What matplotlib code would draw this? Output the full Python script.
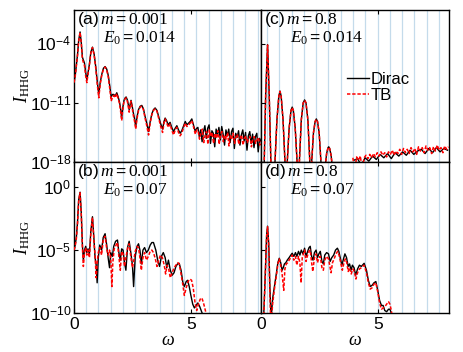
import numpy as np
import matplotlib
matplotlib.use("Agg")
import matplotlib.pyplot as plt
from matplotlib.lines import Line2D

plt.rcParams['font.family'] = ['Liberation Sans', 'DejaVu Sans']
plt.rcParams['mathtext.fontset'] = 'custom'
plt.rcParams['mathtext.rm'] = 'Liberation Sans'
plt.rcParams['mathtext.sf'] = 'Liberation Sans'
plt.rcParams['mathtext.it'] = 'Liberation Serif:italic'
plt.rcParams['mathtext.tt'] = 'Liberation Serif'
plt.rcParams['mathtext.bf'] = 'Liberation Sans:bold'

nan = np.nan
# ---------------- data (log10 of I_HHG) ----------------
# panel (a): m=0.001, E0=0.014
a_w_dirac = [0.00, 0.05, 0.10, 0.15, 0.20, 0.26, 0.31, 0.36, 0.40, 0.45, 0.50, 0.55, 0.60, 0.66, 0.72, 0.79, 0.86, 0.93, 1.00, 1.06,
             1.12, 1.19, 1.26, 1.33, 1.40, 1.47, 1.53, 1.59, 1.65, 1.70, 1.76, 1.83, 1.89, 1.94, 1.99, 2.04, 2.09, 2.14, 2.19, 2.23,
             2.29, 2.36, 2.40, 2.44, 2.49, 2.54, 2.60, 2.64, 2.70, 2.76, 2.83, 2.90, 2.97, 3.04, 3.12, 3.19, 3.26, 3.33, 3.40, 3.47,
             3.55, 3.62, 3.70, 3.79, 3.85, 3.90, 3.96, 4.03, 4.11, 4.18, 4.26, 4.33, 4.40, 4.47, 4.54, 4.61, 4.68, 4.76, 4.83, 4.90,
             4.97, 5.04, 5.11, 5.19, 5.25,
             5.30, 5.36, 5.42, 5.48, 5.54, 5.60, 5.66, 5.72, 5.78, 5.84, 5.90, 5.96, 6.02, 6.08, 6.14, 6.20, 6.26, 6.32, 6.38, 6.44,
             6.50, 6.56, 6.62, 6.68, 6.74, 6.80, 6.86, 6.92, 6.98, 7.04, 7.10, 7.16, 7.22, 7.28, 7.34, 7.40, 7.46, 7.52, 7.58, 7.64,
             7.70, 7.76, 7.82, 7.88, 7.94, 8.00]
a_dirac = [-8.6, -7.8, -6.5, -5.3, -3.6, -2.6, -3.8, -5.6, -5.9, -6.3, -7.4, -8.3, -7.4, -6.4, -5.0, -4.4, -5.2, -6.7, -8.6, -10.0,
           -8.6, -7.6, -6.9, -6.7, -7.0, -7.8, -9.0, -10.3, -10.0, -10.0, -10.2, -9.8, -10.3, -10.8, -11.6, -12.8, -11.5, -10.7, -10.4, -10.3,
           -10.7, -11.8, -11.2, -10.7, -11.4, -12.2, -13.0, -13.8, -12.6, -11.8, -11.4, -11.3, -11.7, -12.6, -13.5, -14.4, -13.2, -12.3, -11.8, -11.6,
           -11.9, -12.6, -13.4, -14.1, -13.2, -12.8, -13.1, -13.6, -13.3, -13.9, -14.4, -14.0, -13.7, -14.2, -14.6, -14.3, -13.8, -13.2, -13.6, -13.4,
           -13.2, -12.9, -13.6, -14.4, -14.0,
           -13.9, -15.0, -14.2, -15.6, -14.4, -13.7, -15.2, -14.0, -13.6, -15.8, -14.3, -14.6, -16.2, -14.1, -14.8, -13.9, -15.4, -13.8, -14.7, -16.0,
           -14.2, -14.9, -14.1, -15.7, -14.4, -14.0, -16.4, -14.6, -15.1, -14.3, -16.0, -14.8, -14.2, -15.5, -14.5, -16.6, -14.9, -14.4, -15.8, -14.7,
           -16.3, -15.0, -14.6, -16.8, -15.2, -15.6]
a_w_tb = [0.00, 0.05, 0.10, 0.15, 0.20, 0.26, 0.31, 0.36, 0.40, 0.45, 0.50, 0.55, 0.60, 0.66, 0.72, 0.79, 0.86, 0.93, 1.00, 1.06,
          1.12, 1.19, 1.26, 1.33, 1.40, 1.47, 1.53, 1.59, 1.65, 1.70, 1.76, 1.83, 1.89, 1.94, 1.99, 2.04, 2.09, 2.14, 2.19, 2.23,
          2.29, 2.36, 2.40, 2.44, 2.49, 2.54, 2.60, 2.64, 2.70, 2.76, 2.83, 2.90, 2.97, 3.04, 3.12, 3.19, 3.26, 3.33, 3.40, 3.47,
          3.55, 3.62, 3.70, 3.79, 3.85, 3.90, 3.96, 4.03, 4.11, 4.18, 4.26, 4.33, 4.40, 4.47, 4.54, 4.61, 4.68, 4.76, 4.83, 4.90,
          4.97, 5.04, 5.11, 5.19, 5.25,
          5.31, 5.37, 5.43, 5.49, 5.55, 5.61, 5.67, 5.73, 5.79, 5.85, 5.91, 5.97, 6.03, 6.09, 6.15, 6.21, 6.27, 6.33, 6.39, 6.45,
          6.51, 6.57, 6.63, 6.69, 6.75, 6.81, 6.87, 6.93, 6.99, 7.05, 7.11, 7.17, 7.23, 7.29, 7.35, 7.41, 7.47, 7.53, 7.59, 7.65,
          7.71, 7.77, 7.83, 7.89, 7.95, 8.00]
a_tb = [-8.6, -7.9, -6.6, -5.4, -3.7, -2.65, -3.9, -5.8, -6.2, -6.6, -7.8, -8.6, -7.6, -6.5, -5.1, -4.45, -5.3, -6.9, -8.9, -10.4,
        -8.8, -7.7, -7.0, -6.75, -7.1, -8.0, -9.3, -10.8, -10.3, -10.1, -10.4, -9.9, -10.5, -11.0, -11.9, -13.1, -11.7, -10.8, -10.5, -10.4,
        -10.9, -12.1, -11.4, -10.8, -11.6, -12.5, -13.3, -14.1, -12.8, -11.9, -11.5, -11.4, -11.8, -12.8, -13.8, -14.8, -13.4, -12.4, -11.9, -11.7,
        -12.0, -12.8, -13.7, -14.5, -13.4, -12.9, -13.3, -13.9, -13.5, -14.2, -14.8, -14.2, -13.9, -14.5, -14.9, -14.6, -14.0, -13.4, -13.8, -13.6,
        -13.4, -13.1, -13.8, -14.7, -14.2,
        -14.3, -15.3, -14.6, -14.1, -15.7, -14.8, -14.4, -15.9, -14.2, -15.0, -14.5, -15.8, -14.6, -15.2, -14.3, -15.9, -14.7, -14.4, -15.6, -14.8,
        -15.3, -14.5, -16.1, -14.9, -15.2, -14.6, -15.8, -15.0, -14.7, -15.9, -15.1, -14.8, -16.0, -15.2, -14.9, -15.7, -15.3, -15.0, -16.2, -15.3,
        -15.0, -15.8, -15.4, -15.1, -16.0, -15.5]

# panel (b): m=0.001, E0=0.07
b_w_dirac = [0.00, 0.05, 0.10, 0.15, 0.20, 0.26, 0.31, 0.36, 0.40, 0.45, 0.50, 0.55, 0.60, 0.66, 0.72, 0.79, 0.85, 0.90, 0.95, 0.99,
             1.04, 1.10, 1.18, 1.25, 1.33, 1.40, 1.46, 1.52, 1.57, 1.64, 1.70, 1.78, 1.86, 1.92, 1.98, 2.04, 2.10, 2.16, 2.22, 2.29,
             2.36, 2.43, 2.50, 2.55, 2.62, 2.70, 2.76, 2.82, 2.88, 2.95, 3.02, 3.10, 3.18, 3.26, 3.33, 3.40, 3.50, 3.58, 3.66, 3.74,
             3.82, 3.90, 3.97, 4.04, 4.12, 4.20, 4.28, 4.36, 4.43, 4.50, 4.58, 4.66, 4.72, 4.80, 4.86, 4.93, 5.00, 5.08, 5.15, 5.22,
             5.30, 5.38, 5.46, 5.54, 5.60]
b_dirac = [-5.0, -4.6, -4.0, -2.8, -1.0, -0.4, -2.0, -4.6, -5.8, -5.0, -4.7, -5.2, -4.9, -5.3, -3.5, -2.35, -4.0, -5.6, -6.2, -7.6,
           -5.6, -4.6, -5.0, -4.0, -3.7, -4.6, -5.6, -6.4, -5.2, -5.5, -4.7, -4.3, -4.2, -5.2, -5.8, -4.9, -5.0, -6.0, -6.6, -4.8,
           -4.3, -5.2, -6.2, -7.9, -5.5, -4.7, -4.5, -5.0, -6.1, -5.0, -4.8, -5.2, -5.0, -4.6, -4.4, -4.4, -5.0, -5.8, -6.3, -5.5,
           -5.2, -5.6, -6.4, -5.8, -6.6, -7.0, -6.8, -6.3, -6.1, -6.05, -6.6, -7.6, -7.9, -7.5, -7.4, -7.9, -8.6, -9.3, -9.6, -9.4,
           -9.2, -9.5, -9.9, -10.3, -10.8]
b_w_tb = [0.00, 0.05, 0.10, 0.15, 0.20, 0.26, 0.31, 0.36, 0.40, 0.45, 0.50, 0.55, 0.60, 0.66, 0.72, 0.79, 0.85, 0.90, 0.95, 0.99,
          1.04, 1.10, 1.18, 1.25, 1.33, 1.40, 1.46, 1.52, 1.57, 1.62, 1.66, 1.72, 1.80, 1.86, 1.92, 1.98, 2.04, 2.10, 2.16, 2.22,
          2.29, 2.36, 2.43, 2.50, 2.56, 2.62, 2.70, 2.76, 2.82, 2.88, 2.95, 3.02, 3.10, 3.18, 3.26, 3.33, 3.40, 3.48, 3.55, 3.62,
          3.70, 3.78, 3.86, 3.92, 3.98, 4.05, 4.12, 4.20, 4.28, 4.36, 4.44, 4.50, 4.58, 4.66, 4.72, 4.80, 4.88, 4.96, 5.03, 5.10,
          5.18, 5.25, 5.32, 5.40, 5.47, 5.54, 5.62, 5.70]
b_tb = [-5.0, -4.7, -4.1, -2.9, -1.1, -0.45, -2.1, -4.8, -6.3, -5.2, -4.8, -5.4, -5.0, -5.6, -3.7, -2.4, -4.2, -5.4, -7.2, -6.0,
        -5.2, -4.8, -5.4, -4.2, -3.9, -4.9, -5.4, -5.0, -5.6, -7.9, -6.0, -4.9, -4.6, -4.4, -5.5, -6.6, -5.1, -5.3, -6.3, -5.6,
        -4.9, -4.5, -5.5, -6.4, -5.8, -5.1, -4.7, -4.8, -5.6, -6.6, -5.6, -5.2, -5.8, -5.5, -5.1, -5.0, -5.2, -5.7, -6.3, -5.8,
        -5.4, -5.6, -6.2, -6.9, -6.2, -6.5, -7.2, -6.8, -6.4, -6.2, -6.0, -6.1, -6.9, -7.8, -8.6, -8.0, -7.5, -7.3, -7.4, -8.0,
        -9.2, -9.8, -9.3, -8.9, -8.8, -9.2, -9.8, -10.4]

# panel (c): m=0.8, E0=0.014
c_w_dirac = [0.13, 0.20, 0.28, 0.35, 0.43, 0.58, 0.68, 0.76, 0.81, 0.86, 0.94, 1.04, 1.10, 1.20, 1.28, 1.33, 1.38, 1.46, 1.56,
             1.62, 1.72, 1.80, 1.86, 1.92, 2.00, 2.10, 2.14, 2.24, 2.31, 2.36, 2.41, 2.48, 2.58, 2.72, 2.80, 2.86, 2.89, 2.93, 2.99, 3.06,
             3.50,
             3.96, 4.12, 4.28, 4.44, 4.60, 4.76, 4.92, 5.08, 5.24, 5.40, 5.56, 5.72, 5.88, 6.04, 6.20, 6.36, 6.52, 6.68, 6.84, 7.00,
             7.16, 7.32, 7.48, 7.64, 7.80, 7.96]
c_dirac = [-19, -10, -4.1, -10, -19, -19, -13, -10.2, -9.6, -10.2, -13, -19, -19, -14, -11.9, -11.5, -11.9, -14, -19,
           -19, -13, -11.0, -10.65, -11.0, -13, -19, -19, -14.5, -13.2, -12.9, -13.2, -14.5, -19, -19, -17, -16.3, -16.2, -16.4, -17.2, -19,
           nan,
           -17.8, -17.6, -18.4, -17.5, -17.9, -17.3, -17.7, -17.1, -17.5, -17.0, -17.6, -16.9, -17.3, -16.8, -17.2, -16.6, -17.1, -16.7, -16.5, -17.0,
           -16.4, -16.9, -16.3, -16.8, -16.4, -16.6]
c_w_tb = [0.13, 0.20, 0.28, 0.35, 0.43, 0.58, 0.68, 0.76, 0.81, 0.86, 0.94, 1.04, 1.10, 1.20, 1.28, 1.33, 1.38, 1.46, 1.56,
          1.62, 1.72, 1.80, 1.86, 1.92, 2.00, 2.10, 2.14, 2.24, 2.31, 2.36, 2.41, 2.48, 2.58, 2.72, 2.80, 2.86, 2.89, 2.93, 2.99, 3.06,
          3.50,
          3.92, 4.00, 4.08, 4.16, 4.24, 4.32, 4.40, 4.48, 4.56, 4.64, 4.72, 4.80, 4.88, 4.96, 5.04, 5.12, 5.20, 5.28, 5.36, 5.44,
          5.52, 5.60, 5.68, 5.76, 5.84, 5.92, 6.00, 6.08, 6.16, 6.24, 6.32, 6.40, 6.48, 6.56, 6.64, 6.72, 6.80, 6.88, 6.96, 7.04,
          7.12, 7.20, 7.28, 7.36, 7.44, 7.52, 7.60, 7.68, 7.76, 7.84, 7.92, 8.00]
c_tb = [-19, -10, -4.15, -10, -19, -19, -13, -10.2, -9.65, -10.2, -13, -19, -19, -14, -11.9, -11.55, -11.9, -14, -19,
        -19, -13, -11.0, -10.7, -11.0, -13, -19, -19, -14.5, -13.2, -12.95, -13.2, -14.5, -19, -19, -17, -16.3, -16.25, -16.4, -17.2, -19,
        nan,
        -17.5, -19, -17.4, -17.8, -17.3, -19, -17.5, -17.2, -17.6, -17.1, -17.5, -17.0, -17.4, -16.9, -17.3, -16.8, -17.2, -16.9, -17.4, -16.8,
        -17.1, -16.6, -17.2, -16.7, -17.0, -16.5, -17.1, -16.4, -16.9, -16.5, -17.0, -16.3, -16.8, -16.4, -17.1, -16.2, -16.7, -16.3, -16.9, -16.1,
        -16.6, -16.3, -17.0, -16.2, -16.7, -16.0, -16.6, -16.3, -16.9, -16.1, -16.5, -16.2]

# panel (d): m=0.8, E0=0.07
d_w_dirac = [0.10, 0.18, 0.24, 0.28, 0.33, 0.38, 0.43, 0.50, 0.58, 0.66, 0.72, 0.78, 0.84, 0.90, 0.95, 1.00, 1.06, 1.12, 1.20, 1.27,
             1.33, 1.40, 1.47, 1.53, 1.60, 1.66, 1.72, 1.79, 1.86, 1.92, 1.99, 2.05, 2.10, 2.16, 2.22, 2.28, 2.35, 2.41, 2.47, 2.53,
             2.60, 2.66, 2.72, 2.80, 2.88, 2.95, 3.02, 3.10, 3.18, 3.26, 3.32, 3.38, 3.45, 3.52, 3.58, 3.65, 3.72, 3.78, 3.84, 3.90,
             3.97, 4.04, 4.12, 4.20, 4.28, 4.40, 4.50, 4.58, 4.66, 4.74, 4.82, 4.90, 4.98, 5.06, 5.14, 5.21, 5.28, 5.36, 5.44, 5.50,
             5.56, 5.62]
d_dirac = [-11.0, -7.0, -3.8, -3.1, -4.5, -8.0, -10.5, -8.8, -7.8, -6.8, -6.0, -5.65, -6.0, -6.6, -6.4, -6.1, -6.0, -5.8, -5.6, -5.4,
           -5.25, -5.5, -5.2, -5.5, -5.1, -5.4, -5.0, -5.3, -4.85, -5.5, -5.1, -4.8, -4.7, -5.5, -5.8, -5.2, -5.0, -5.6, -5.3, -5.1,
           -5.9, -6.1, -5.4, -5.2, -5.3, -5.9, -5.6, -5.4, -5.0, -4.85, -5.1, -5.6, -6.2, -5.7, -5.3, -5.6, -6.3, -6.1, -6.6, -6.2,
           -6.4, -7.0, -6.5, -6.2, -6.3, -6.05, -6.6, -7.4, -7.9, -7.8, -7.6, -7.5, -8.2, -9.0, -9.4, -9.4, -9.8, -9.9, -9.7, -9.7,
           -10.0, -10.5]
d_w_tb = [0.10, 0.18, 0.24, 0.28, 0.33, 0.38, 0.42, 0.50, 0.58, 0.66, 0.72, 0.78, 0.84, 0.90, 0.97, 1.02, 1.08, 1.14, 1.20, 1.27,
          1.33, 1.40, 1.47, 1.53, 1.60, 1.66, 1.71, 1.76, 1.81, 1.86, 1.92, 1.99, 2.05, 2.10, 2.16, 2.21, 2.28, 2.35, 2.41, 2.47,
          2.53, 2.60, 2.66, 2.72, 2.80, 2.88, 2.94, 2.99, 3.05, 3.12, 3.20, 3.27, 3.33, 3.40, 3.47, 3.54, 3.60, 3.66, 3.72, 3.78,
          3.85, 3.92, 3.98, 4.05, 4.12, 4.20, 4.28, 4.40, 4.50, 4.58, 4.66, 4.74, 4.82, 4.90, 4.98, 5.06, 5.14, 5.21, 5.28, 5.36,
          5.44, 5.50, 5.56, 5.62]
d_tb = [-11.0, -7.2, -3.9, -3.15, -4.7, -8.5, -11.0, -9.2, -8.0, -7.0, -6.1, -5.7, -6.2, -6.9, -8.2, -6.5, -6.1, -6.0, -5.8, -5.6,
        -5.4, -5.8, -5.5, -6.2, -5.5, -6.0, -7.6, -5.6, -5.3, -5.0, -5.9, -5.4, -5.1, -5.0, -6.0, -6.7, -5.6, -5.3, -6.0, -5.6,
        -5.5, -6.4, -6.6, -5.8, -5.5, -5.7, -6.3, -6.8, -6.0, -5.7, -5.3, -5.1, -5.4, -6.0, -6.6, -6.0, -5.7, -6.0, -6.7, -6.4,
        -6.9, -6.5, -6.7, -7.3, -6.8, -6.5, -6.4, -6.2, -6.8, -7.6, -8.1, -8.0, -7.7, -7.6, -8.3, -9.2, -9.7, -9.6, -9.5, -9.3,
        -9.1, -9.3, -9.8, -10.5]

panel_labels = ['(a)', '(b)', '(c)', '(d)']
m_values = ['0.001', '0.001', '0.8', '0.8']
E0_values = ['0.014', '0.07', '0.014', '0.07']
top_yticks = [1e-4, 1e-11, 1e-18]
top_yticklabels = [r'$10^{-4}$', r'$10^{-11}$', r'$10^{-18}$']
bot_yticks = [1e0, 1e-5, 1e-10]
bot_yticklabels = [r'$10^{0}$', r'$10^{-5}$', r'$10^{-10}$']
omega0 = 0.2618  # laser frequency (harmonic guide lines)

# ---------------- figure ----------------
fig = plt.figure(figsize=(4.63, 3.52), dpi=100)
W, H = 463.0, 352.0
def box(x0, x1, y0, y1):
    return [x0 / W, 1 - y1 / H, (x1 - x0) / W, (y1 - y0) / H]

ax_a = fig.add_axes(box(74, 261, 10, 162))
ax_c = fig.add_axes(box(261, 448.5, 10, 162))
ax_b = fig.add_axes(box(74, 261, 162, 313))
ax_d = fig.add_axes(box(261, 448.5, 162, 313))

data = {
    'a': (ax_a, a_w_dirac, a_dirac, a_w_tb, a_tb),
    'b': (ax_b, b_w_dirac, b_dirac, b_w_tb, b_tb),
    'c': (ax_c, c_w_dirac, c_dirac, c_w_tb, c_tb),
    'd': (ax_d, d_w_dirac, d_dirac, d_w_tb, d_tb),
}
guide_color = '#c4dbeb'
for i, key in enumerate(['a', 'b', 'c', 'd']):
    ax, wd, yd, wt, yt = data[key]
    ax.set_yscale('log')
    ax.set_xlim(0, 8)
    if key in ('a', 'c'):
        ax.set_ylim(1e-18, 1e0)
    else:
        ax.set_ylim(1e-10, 1e2)
    # harmonic guide lines
    if key in ('a', 'b'):
        hl = np.arange(2, 31, 2) * omega0
    else:
        hl = np.arange(1, 31, 2) * omega0
    for xv in hl:
        if xv < 8:
            ax.axvline(xv, color=guide_color, lw=0.9, zorder=0)
    ax.plot(wd, 10.0 ** np.array(yd, dtype=float), color='black', lw=1.0, zorder=2)
    ax.plot(wt, 10.0 ** np.array(yt, dtype=float), color='#ff0000', lw=1.1, ls=(0, (2.2, 1.2)), zorder=3)

    ax.tick_params(which='both', direction='in', top=True, right=False, labelsize=12.5, length=3, width=0.8)
    ax.minorticks_off()
    ax.set_xticks([0, 5])
    if key in ('a', 'c'):
        ax.set_yticks(top_yticks)
        ax.set_yticklabels(top_yticklabels)
        ax.set_xticklabels([])
    else:
        ax.set_yticks(bot_yticks)
        ax.set_yticklabels(bot_yticklabels)
        ax.set_xticklabels(['0', '5'])
        ax.set_xlabel(r'$\omega$', fontsize=13, labelpad=0)
    ax.minorticks_off()
    if key in ('c', 'd'):
        ax.set_yticklabels([])
    else:
        ax.set_ylabel(r'$I_{\mathtt{HHG}}$', fontsize=13, labelpad=-2)
    for s in ax.spines.values():
        s.set_linewidth(1.0)
    ax.tick_params(axis='y', pad=2)
    ax.tick_params(axis='x', pad=3)

    lab = panel_labels[i]
    ax.text(0.015, 0.935, lab + r'$\,m = \mathtt{' + m_values[i] + r'}$', transform=ax.transAxes,
            fontsize=12.5, ha='left', va='center', zorder=5)
    ax.text(0.155, 0.815, r'$E_{\mathtt{0}} = \mathtt{' + E0_values[i] + r'}$', transform=ax.transAxes,
            fontsize=12.5, ha='left', va='center', zorder=5)

handles = [Line2D([], [], color='black', lw=1.0),
           Line2D([], [], color='#ff0000', lw=1.1, ls=(0, (2.2, 1.2)))]
ax_c.legend(handles, ['Dirac', 'TB'], loc='upper left', bbox_to_anchor=(0.46, 0.59), frameon=False,
            fontsize=12, handlelength=1.3, handletextpad=0.1, labelspacing=0.05, borderaxespad=0, borderpad=0)

fig.savefig('out.png', dpi=100)
